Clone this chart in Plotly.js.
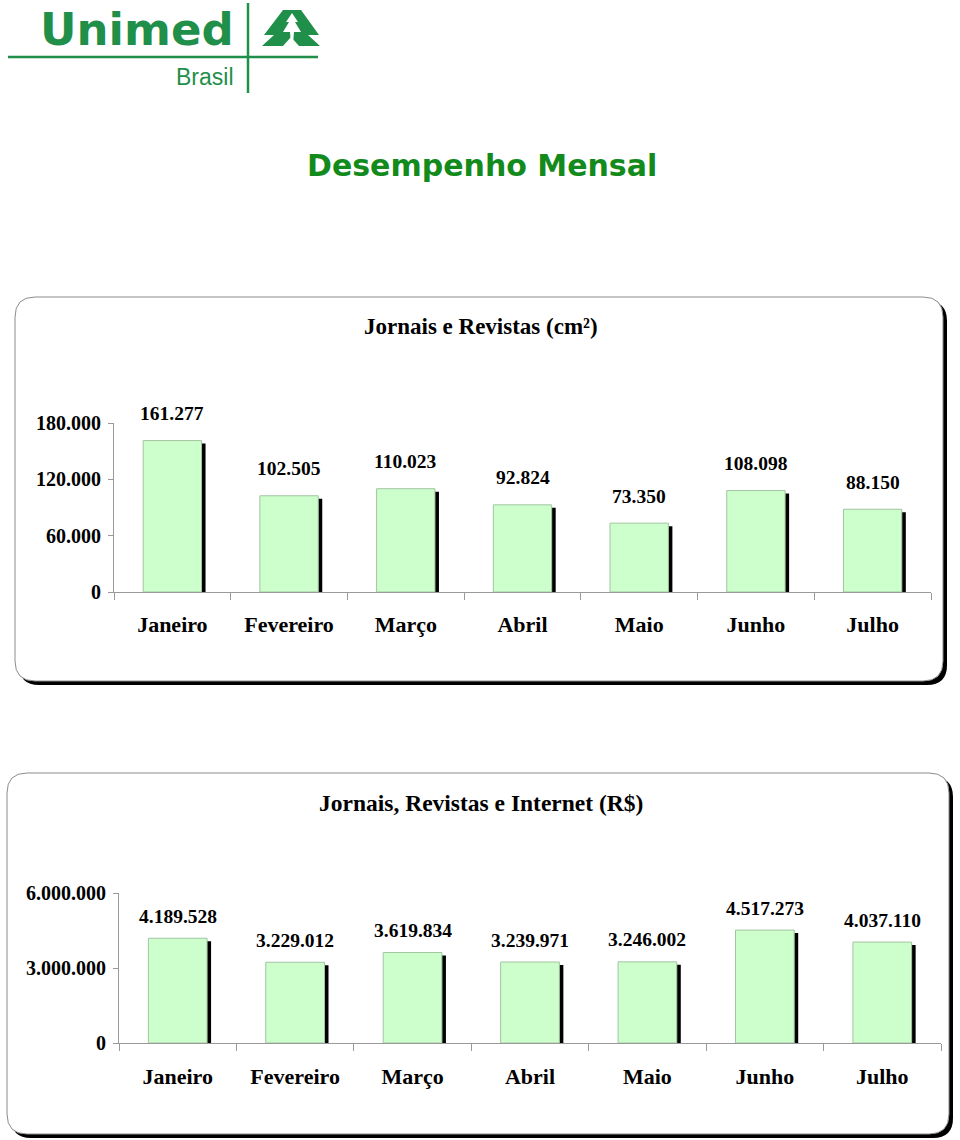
<!DOCTYPE html>
<html>
<head>
<meta charset="utf-8">
<script src="https://cdn.plot.ly/plotly-3.0.1.min.js"></script>
<style>html,body{margin:0;padding:0;background:#fff;}#chart{width:960px;height:1140px;}</style>
</head>
<body>
<div id="chart"></div>
<script>
const months = ['Janeiro','Fevereiro','Março','Abril','Maio','Junho','Julho'];
const jornaisRevistas = [161277,102505,110023,92824,73350,108098,88150];
const jornaisRevistasInternet = [4189528,3229012,3619834,3239971,3246002,4517273,4037110];
const ticks1 = [0,60000,120000,180000];
const ticks1Text = ['0','60.000','120.000','180.000'];
const ticks2 = [0,3000000,6000000];
const ticks2Text = ['0','3.000.000','6.000.000'];
const title1 = 'Jornais e Revistas (cm²)';
const title2 = 'Jornais, Revistas e Internet (R$)';
const mainTitle = 'Desempenho Mensal';

const W = 960, H = 1140;
const px = x => x / W;
const py = y => 1 - y / H;
function fmt(v){ return String(v).replace(/\B(?=(\d{3})+(?!\d))/g, '.'); }

function roundRect(x0, y0, x1, y1, r){
  const rx = r / W, ry = r / H;
  const X0 = px(x0), X1 = px(x1), Y0 = py(y0), Y1 = py(y1);
  return `M ${X0+rx},${Y0} L ${X1-rx},${Y0} Q ${X1},${Y0} ${X1},${Y0-ry} L ${X1},${Y1+ry} Q ${X1},${Y1} ${X1-rx},${Y1} L ${X0+rx},${Y1} Q ${X0},${Y1} ${X0},${Y1+ry} L ${X0},${Y0-ry} Q ${X0},${Y0} ${X0+rx},${Y0} Z`;
}
function poly(pts){
  return 'M ' + pts.map(p => `${px(p[0])},${py(p[1])}`).join(' L ') + ' Z';
}

const serif = 'Liberation Serif, Times New Roman, serif';
const green = '#ccffcc';
const barLine = '#a3c4a3';
const axisGray = '#9a9a9a';

const p1 = {x0:114, x1:931, yTop:423, yBot:592, max:180000};
const p2 = {x0:119, x1:941, yTop:893, yBot:1043, max:6000000};
const shadowDx = 4, shadowDy = 3;
const d1 = shadowDy * p1.max / (p1.yBot - p1.yTop);
const d2 = shadowDy * p2.max / (p2.yBot - p2.yTop);
const off1 = shadowDx / ((p1.x1 - p1.x0) / months.length);
const off2 = shadowDx / ((p2.x1 - p2.x0) / months.length);

const traces = [
  {type:'bar', x:months, y:jornaisRevistas, xaxis:'x', yaxis:'y', width:0.5, offset:-0.25+off1,
   marker:{color:'#000'}, hoverinfo:'skip', showlegend:false},
  {type:'bar', x:months, y:jornaisRevistas, xaxis:'x', yaxis:'y3', width:0.5, offset:-0.25,
   marker:{color:green, line:{color:barLine, width:1}}, hoverinfo:'skip', showlegend:false},
  {type:'bar', x:months, y:jornaisRevistasInternet, xaxis:'x2', yaxis:'y2', width:0.5, offset:-0.25+off2,
   marker:{color:'#000'}, hoverinfo:'skip', showlegend:false},
  {type:'bar', x:months, y:jornaisRevistasInternet, xaxis:'x2', yaxis:'y4', width:0.5, offset:-0.25,
   marker:{color:green, line:{color:barLine, width:1}}, hoverinfo:'skip', showlegend:false}
];

const xCommon = {
  type:'category', showline:true, linecolor:axisGray, linewidth:1,
  ticks:'outside', tickson:'boundaries', ticklen:7, tickcolor:axisGray,
  showgrid:false, zeroline:false, fixedrange:true,
  tickfont:{family:serif, size:22, color:'#000', weight:'bold'}
};
const yVis = {
  showline:true, linecolor:axisGray, linewidth:1, ticks:'outside', ticklen:5, tickcolor:axisGray,
  showgrid:false, zeroline:false, fixedrange:true,
  tickfont:{family:serif, size:20, color:'#000', weight:'bold'}, ticklabelstandoff:3
};

const annotations = [];
months.forEach((m, i) => {
  annotations.push({xref:'x', yref:'y3', x:m, y:jornaisRevistas[i], yshift:27, text:fmt(jornaisRevistas[i]),
    showarrow:false, yanchor:'middle', font:{family:serif, size:19.5, color:'#000', weight:'bold'}});
  annotations.push({xref:'x2', yref:'y4', x:m, y:jornaisRevistasInternet[i], yshift:22, text:fmt(jornaisRevistasInternet[i]),
    showarrow:false, yanchor:'middle', font:{family:serif, size:19.5, color:'#000', weight:'bold'}});
});
annotations.push(
  {xref:'paper', yref:'paper', x:px(481), y:py(326), text:title1, showarrow:false, yanchor:'middle',
   font:{family:serif, size:23, color:'#000', weight:'bold'}},
  {xref:'paper', yref:'paper', x:px(481), y:py(803), text:title2, showarrow:false, yanchor:'middle',
   font:{family:serif, size:23.5, color:'#000', weight:'bold'}},
  {xref:'paper', yref:'paper', x:px(482), y:py(165), text:mainTitle, showarrow:false, yanchor:'middle',
   font:{family:'DejaVu Sans, Verdana, sans-serif', size:30, color:'#138a1c', weight:'bold'}},
  {xref:'paper', yref:'paper', x:px(38), y:py(30), xanchor:'left', text:'Unimed', showarrow:false, yanchor:'middle',
   font:{family:'DejaVu Sans, Arial, sans-serif', size:45, color:'#1f8f4a', weight:'bold'}},
  {xref:'paper', yref:'paper', x:px(236), y:py(77), xanchor:'right', text:'Brasil', showarrow:false, yanchor:'middle',
   font:{family:'Liberation Sans, Arial, sans-serif', size:23, color:'#1f8f4a'}}
);

const logoGreen = '#1f8f4a';
const shapes = [
  {type:'path', xref:'paper', yref:'paper', layer:'below', path:roundRect(19,301,947,685,20), fillcolor:'#000', line:{width:0}},
  {type:'path', xref:'paper', yref:'paper', layer:'below', path:roundRect(15,297,943,681,20), fillcolor:'#fff', line:{color:'#8c8c8c', width:1}},
  {type:'path', xref:'paper', yref:'paper', layer:'below', path:roundRect(11,777,953,1138,20), fillcolor:'#000', line:{width:0}},
  {type:'path', xref:'paper', yref:'paper', layer:'below', path:roundRect(7,773,949,1134,20), fillcolor:'#fff', line:{color:'#8c8c8c', width:1}},
  {type:'line', xref:'paper', yref:'paper', x0:px(8), x1:px(318), y0:py(57), y1:py(57), line:{color:logoGreen, width:2.5}},
  {type:'line', xref:'paper', yref:'paper', x0:px(248), x1:px(248), y0:py(3), y1:py(93), line:{color:logoGreen, width:2.5}},
  {type:'path', xref:'paper', yref:'paper', fillcolor:logoGreen, line:{width:0},
   path:poly([[283,10],[301,10],[319,35],[308,35],[320,46],[299,46],[291,37],[283,46],[262,46],[274,35],[264,35]])},
  {type:'path', xref:'paper', yref:'paper', fillcolor:'#fff', line:{width:0},
   path:poly([[292,13],[298,22],[295,22],[301,32],[294,32],[293,44],[291,44],[290,32],[283,32],[289,22],[286,22]])}
];

const layout = {
  width:W, height:H, margin:{l:0, r:0, t:0, b:0},
  paper_bgcolor:'#fff', plot_bgcolor:'rgba(0,0,0,0)',
  showlegend:false, hovermode:false,
  xaxis: Object.assign({}, xCommon, {domain:[px(p1.x0), px(p1.x1)], anchor:'y', ticklabelstandoff:13}),
  yaxis: {domain:[py(p1.yBot), py(p1.yTop)], range:[d1, p1.max + d1], visible:false, fixedrange:true, anchor:'x'},
  yaxis3: Object.assign({}, yVis, {overlaying:'y', anchor:'x', side:'left', range:[0, p1.max], tickvals:ticks1, ticktext:ticks1Text}),
  xaxis2: Object.assign({}, xCommon, {domain:[px(p2.x0), px(p2.x1)], anchor:'y2', ticklabelstandoff:14}),
  yaxis2: {domain:[py(p2.yBot), py(p2.yTop)], range:[d2, p2.max + d2], visible:false, fixedrange:true, anchor:'x2'},
  yaxis4: Object.assign({}, yVis, {overlaying:'y2', anchor:'x2', side:'left', range:[0, p2.max], tickvals:ticks2, ticktext:ticks2Text}),
  annotations: annotations,
  shapes: shapes
};

Plotly.newPlot('chart', traces, layout, {staticPlot:true, displayModeBar:false});
</script>
</body>
</html>
